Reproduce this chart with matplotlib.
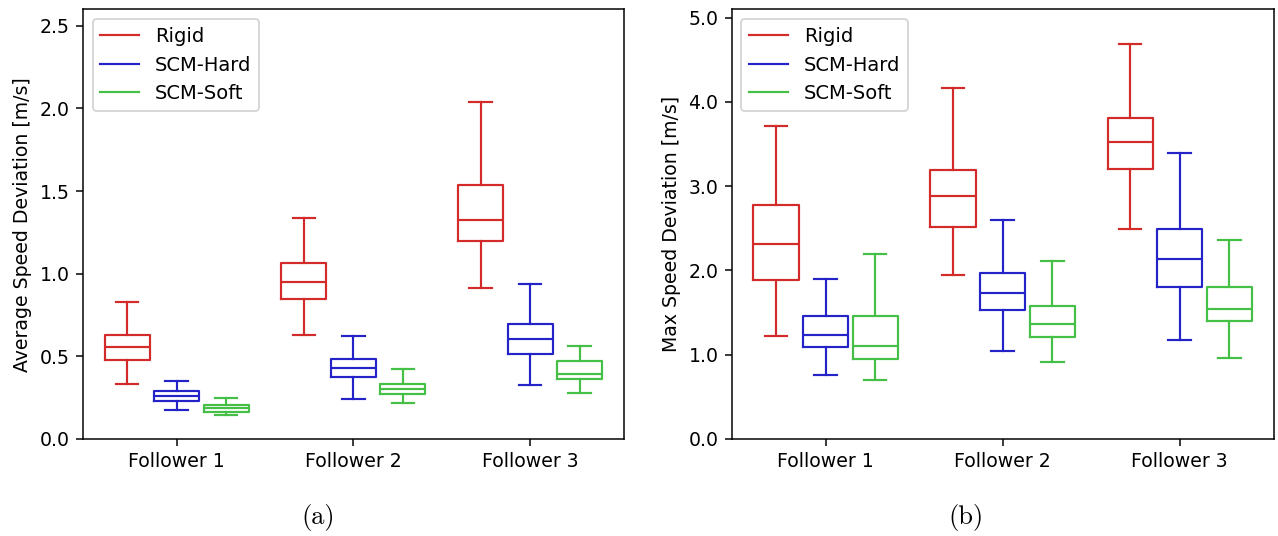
import numpy as np
import matplotlib.pyplot as plt
from matplotlib.lines import Line2D
from matplotlib.ticker import FormatStrFormatter

followers = ['Follower 1', 'Follower 2', 'Follower 3']
terrains = ['Rigid', 'SCM-Hard', 'SCM-Soft']
colors = ['#d32a2a', '#2323c8', '#45bf45']

# box stats per terrain, one tuple per follower: (whislo, q1, med, q3, whishi)
avg_rigid = [(0.33, 0.48, 0.555, 0.627, 0.83), (0.631, 0.845, 0.948, 1.066, 1.34), (0.914, 1.195, 1.325, 1.535, 2.037)]
avg_hard = [(0.177, 0.227, 0.261, 0.293, 0.351), (0.243, 0.375, 0.43, 0.486, 0.622), (0.327, 0.514, 0.604, 0.697, 0.94)]
avg_soft = [(0.147, 0.165, 0.185, 0.205, 0.249), (0.219, 0.271, 0.305, 0.333, 0.422), (0.281, 0.365, 0.396, 0.47, 0.56)]

max_rigid = [(1.222, 1.885, 2.315, 2.776, 3.718), (1.944, 2.516, 2.879, 3.194, 4.164), (2.488, 3.206, 3.529, 3.813, 4.688)]
max_hard = [(0.757, 1.096, 1.23, 1.463, 1.893), (1.041, 1.53, 1.727, 1.968, 2.603), (1.179, 1.806, 2.137, 2.496, 3.391)]
max_soft = [(0.698, 0.946, 1.1, 1.455, 2.196), (0.919, 1.215, 1.368, 1.577, 2.118), (0.966, 1.404, 1.538, 1.798, 2.358)]


def to_stats(rows):
    return [dict(whislo=a, q1=b, med=c, q3=d, whishi=e, fliers=[]) for a, b, c, d, e in rows]


def draw_panel(ax, groups, ylabel, ymax, ystep):
    offsets = [-0.28, 0.0, 0.28]
    centers = np.arange(1, len(followers) + 1)
    for rows, off, col in zip(groups, offsets, colors):
        props = dict(color=col, linewidth=1.15)
        ax.bxp(to_stats(rows), positions=centers + off, widths=0.255,
               showfliers=False, manage_ticks=False,
               boxprops=props, medianprops=props, whiskerprops=props, capprops=props)
    ax.set_xticks(centers)
    ax.set_xticklabels(followers)
    ax.set_xlim(0.47, 3.53)
    ax.set_ylim(0, ymax)
    ax.set_yticks(np.arange(0, ymax, ystep))
    ax.yaxis.set_major_formatter(FormatStrFormatter('%.1f'))
    ax.set_ylabel(ylabel)
    handles = [Line2D([0], [0], color=c, linewidth=1.15) for c in colors]
    ax.legend(handles, terrains, loc='upper left', fontsize=10.3)


fig = plt.figure(figsize=(1278 / 136, 536 / 136), dpi=136)
ax1 = fig.add_axes([0.0649, 0.181, 0.4233, 0.8017])
ax2 = fig.add_axes([0.5725, 0.181, 0.4241, 0.8017])

draw_panel(ax1, [avg_rigid, avg_hard, avg_soft], 'Average Speed Deviation [m/s]', 2.6, 0.5)
draw_panel(ax2, [max_rigid, max_hard, max_soft], 'Max Speed Deviation [m/s]', 5.1, 1.0)

fig.text(0.249, 0.035, '(a)', ha='center', va='center', family='cmr10', fontsize=14)
fig.text(0.756, 0.035, '(b)', ha='center', va='center', family='cmr10', fontsize=14)

fig.savefig('out.png', dpi=136)
